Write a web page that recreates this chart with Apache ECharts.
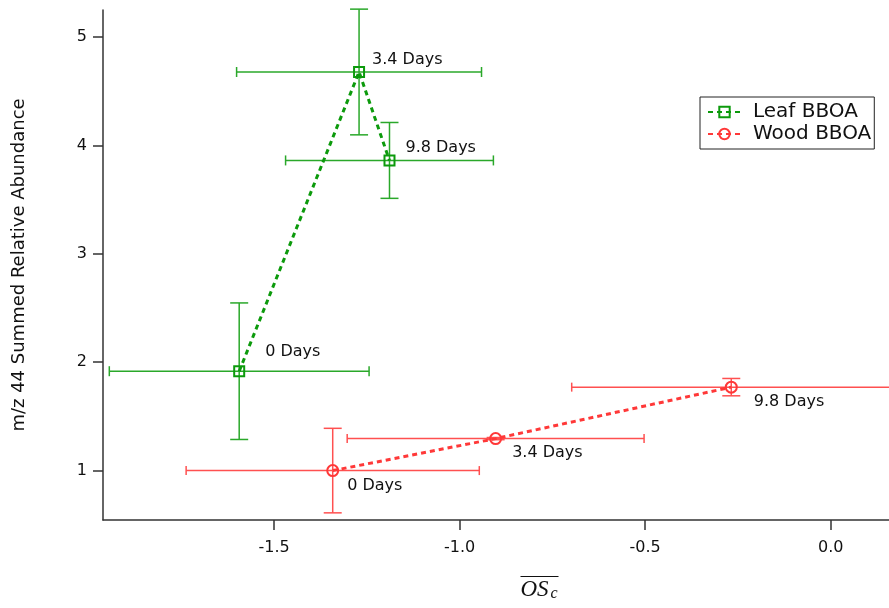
<!DOCTYPE html>
<html>
<head>
<meta charset="utf-8">
<script src="https://cdn.jsdelivr.net/npm/echarts@6/dist/echarts.min.js"></script>
<style>
  html, body { margin: 0; padding: 0; background: #fff; }
  #chart { width: 889px; height: 608px; }
</style>
</head>
<body>
<div id="chart"></div>
<script>
// Aging points: oxidation state (x) vs. m/z 44 summed relative abundance (y)
const dayLabels = ['0 Days', '3.4 Days', '9.8 Days'];

const leafX    = [-1.594, -1.271, -1.189];
const leafY    = [1.917, 4.678, 3.862];
const leafXErr = [0.35, 0.33, 0.28];
const leafYErr = [0.63, 0.58, 0.35];

const woodX    = [-1.342, -0.903, -0.268];
const woodY    = [1.0, 1.295, 1.770];
const woodXErr = [0.395, 0.40, 0.43];
const woodYErr = [0.39, 0.01, 0.08];

const xTicks = [-1.5, -1.0, -0.5, 0.0];
const yTicks = [1, 2, 3, 4, 5];

const GREEN = '#0c9a0c';
const GREEN_BAR = '#2aa82a';
const RED = '#ff3838';
const RED_BAR = '#ff5050';
const FONT = 'DejaVu Sans';

// label placement next to each marker
const leafLabelOffsets = [[20, -19], [7, -12], [10, -13]];
const woodLabelOffsets = [[8, 15], [10, 14], [16, 15]];

function lineData(xs, ys, offsets) {
  return xs.map((x, i) => ({
    value: [x, ys[i]],
    name: dayLabels[i],
    label: { offset: offsets[i] }
  }));
}

function errData(xs, ys, xe, ye) {
  return xs.map((x, i) => [x, ys[i], xe[i], ye[i]]);
}

function errorBars(color, capW, capH) {
  return function (params, api) {
    const x = api.value(0), y = api.value(1);
    const ex = api.value(2), ey = api.value(3);
    const l = api.coord([x - ex, y]);
    const r = api.coord([x + ex, y]);
    const t = api.coord([x, y + ey]);
    const b = api.coord([x, y - ey]);
    const style = { stroke: color, lineWidth: 1.5, fill: null };
    const seg = (x1, y1, x2, y2) => ({ type: 'line', shape: { x1, y1, x2, y2 }, style });
    return {
      type: 'group',
      children: [
        seg(l[0], l[1], r[0], r[1]),
        seg(l[0], l[1] - capH, l[0], l[1] + capH),
        seg(r[0], r[1] - capH, r[0], r[1] + capH),
        seg(t[0], t[1], b[0], b[1]),
        seg(t[0] - capW, t[1], t[0] + capW, t[1]),
        seg(b[0] - capW, b[1], b[0] + capW, b[1])
      ]
    };
  };
}

const axisLineStyle = { color: '#333', width: 1.5 };

const chart = echarts.init(document.getElementById('chart'), null, { renderer: 'canvas' });
chart.setOption({
  animation: false,
  backgroundColor: '#fff',
  grid: { left: 103, right: 0, top: 10, bottom: 88, containLabel: false, outerBoundsMode: 'none' },
  xAxis: {
    type: 'value',
    min: -1.961,
    max: 0.157,
    axisLine: { show: true, onZero: false, lineStyle: axisLineStyle },
    axisTick: { show: true, length: 10, lineStyle: axisLineStyle, customValues: xTicks },
    axisLabel: {
      customValues: xTicks,
      margin: 20,
      color: '#111',
      fontFamily: FONT,
      fontSize: 16,
      formatter: v => v.toFixed(1)
    },
    splitLine: { show: false }
  },
  yAxis: {
    type: 'value',
    min: 0.544,
    max: 5.25,
    name: 'm/z 44 Summed Relative Abundance',
    nameLocation: 'middle',
    nameGap: 75,
    nameTextStyle: { fontFamily: FONT, fontSize: 18, color: '#111' },
    axisLine: { show: true, onZero: false, lineStyle: axisLineStyle },
    axisTick: { show: true, length: 10, lineStyle: axisLineStyle, customValues: yTicks },
    axisLabel: {
      customValues: yTicks,
      margin: 16,
      color: '#111',
      fontFamily: FONT,
      fontSize: 16
    },
    splitLine: { show: false }
  },
  legend: {
    orient: 'vertical',
    left: 700,
    top: 97,
    padding: [5, 3, 5, 7],
    itemGap: 2,
    itemWidth: 33,
    itemHeight: 13,
    borderColor: '#222',
    borderWidth: 1,
    backgroundColor: '#fff',
    textStyle: { fontFamily: FONT, fontSize: 20, color: '#111', padding: [0, 0, 0, 7] },
    data: ['Leaf BBOA', 'Wood BBOA']
  },
  graphic: [
    {
      type: 'group',
      left: 518,
      top: 574,
      children: [
        { type: 'line', shape: { x1: 0, y1: 1, x2: 38, y2: 1 }, style: { stroke: '#111', lineWidth: 1.2 } },
        { type: 'text', x: 0, y: 3, style: { text: 'OS', font: 'italic 23px "Liberation Serif"', fill: '#111' } },
        { type: 'text', x: 30, y: 10, style: { text: 'c', font: 'italic 16px "Liberation Serif"', fill: '#111' } }
      ]
    }
  ],
  series: [
    {
      type: 'custom',
      name: 'leaf-err',
      renderItem: errorBars(GREEN_BAR, 9, 5),
      data: errData(leafX, leafY, leafXErr, leafYErr),
      z: 1,
      silent: true
    },
    {
      type: 'custom',
      name: 'wood-err',
      renderItem: errorBars(RED_BAR, 9, 4.5),
      data: errData(woodX, woodY, woodXErr, woodYErr),
      z: 1,
      silent: true
    },
    {
      type: 'line',
      name: 'Leaf BBOA',
      z: 3,
      color: GREEN,
      symbol: 'rect',
      symbolSize: 10,
      showAllSymbol: true,
      itemStyle: { color: 'rgba(0,0,0,0)', borderColor: GREEN, borderWidth: 2 },
      lineStyle: { color: GREEN, width: 3, type: [5, 4] },
      label: {
        show: true,
        position: 'right',
        distance: 0,
        formatter: p => p.name,
        fontFamily: FONT,
        fontSize: 16,
        color: '#111'
      },
      data: lineData(leafX, leafY, leafLabelOffsets)
    },
    {
      type: 'line',
      name: 'Wood BBOA',
      z: 3,
      color: RED,
      symbol: 'circle',
      symbolSize: 11,
      showAllSymbol: true,
      itemStyle: { color: 'rgba(0,0,0,0)', borderColor: RED, borderWidth: 2 },
      lineStyle: { color: RED, width: 3, type: [5, 4] },
      label: {
        show: true,
        position: 'right',
        distance: 0,
        formatter: p => p.name,
        fontFamily: FONT,
        fontSize: 16,
        color: '#111'
      },
      data: lineData(woodX, woodY, woodLabelOffsets)
    }
  ]
});
</script>
</body>
</html>
